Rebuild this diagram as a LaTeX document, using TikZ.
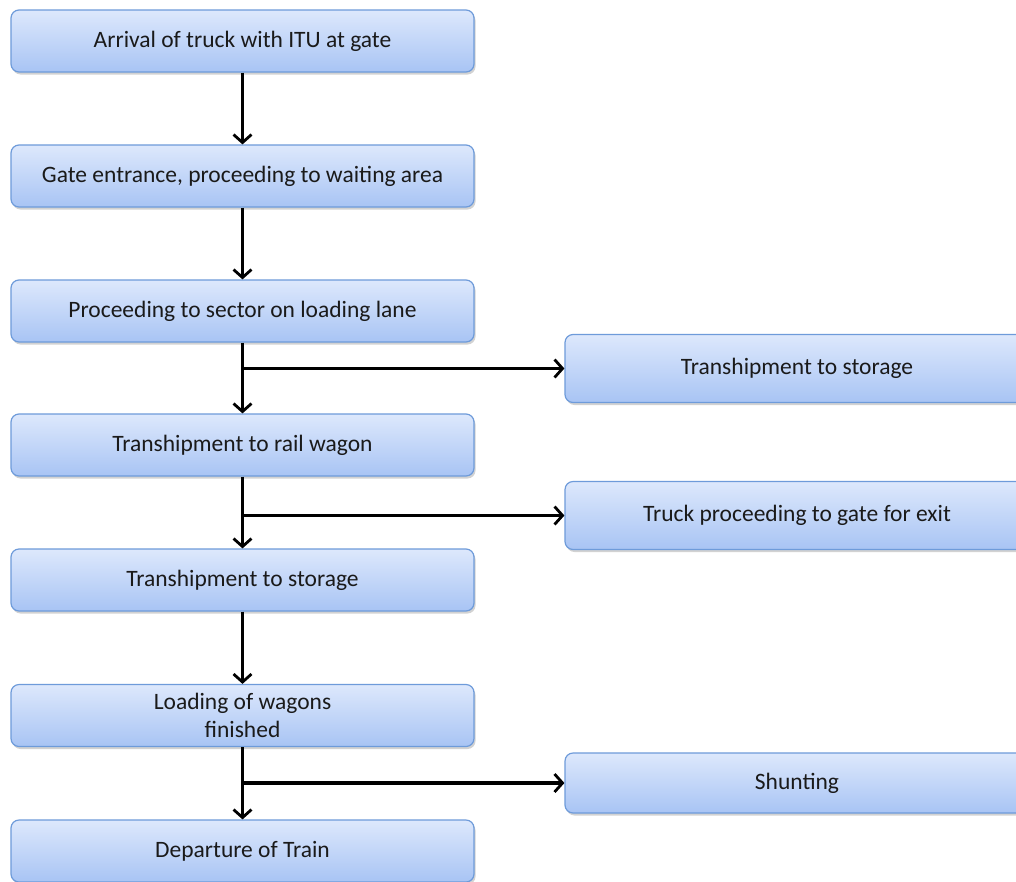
\documentclass[tikz,border=0pt]{standalone}
\usepackage{fontspec}
\setmainfont{Carlito}
\usetikzlibrary{arrows.meta,shadows}
\definecolor{boxtop}{HTML}{DDE8FC}
\definecolor{boxbot}{HTML}{A8C4F4}
\definecolor{boxline}{HTML}{6E9BDA}
\definecolor{txt}{HTML}{1A1A1A}
\tikzset{
  box/.style={rectangle, rounded corners=8pt, draw=boxline, line width=1.2pt,
    top color=boxtop, bottom color=boxbot, text=txt, font=\fontsize{23.5}{28.5}\selectfont,
    align=center, inner sep=0pt,
    drop shadow={opacity=0.35, shadow xshift=1.5pt, shadow yshift=-2.5pt}},
  lbox/.style={box, minimum width=463pt, minimum height=62pt},
  rbox/.style={box, minimum width=464pt, minimum height=68pt},
  conn/.style={line width=3.2pt, -{Straight Barb[length=8pt,width=18pt,line width=2.8pt]}}
}
\begin{document}
\begin{tikzpicture}[x=1pt,y=-1pt]
\useasboundingbox[fill=white] (0,0) rectangle (1016,881);
\node[lbox] (b1) at (242.5,41) {Arrival of truck with ITU at gate};
\node[lbox] (b2) at (242.5,176) {Gate entrance, proceeding to waiting area};
\node[lbox] (b3) at (242.5,311) {Proceeding to sector on loading lane};
\node[lbox] (b4) at (242.5,445) {Transhipment to rail wagon};
\node[lbox] (b5) at (242.5,580) {Transhipment to storage};
\node[lbox] (b6) at (242.5,715.5) {Loading of wagons\\finished};
\node[lbox] (b7) at (242.5,851) {Departure of Train};
\node[rbox] (r1) at (797,368.5) {Transhipment to storage};
\node[rbox] (r2) at (797,515.5) {Truck proceeding to gate for exit};
\node[rbox, minimum height=60pt] (r3) at (797,783) {Shunting};
\draw[conn] (b1) -- (b2);
\draw[conn] (b2) -- (b3);
\draw[conn] (b3) -- (b4);
\draw[conn] (b4) -- (b5);
\draw[conn] (b5) -- (b6);
\draw[conn] (b6) -- (b7);
\draw[conn] (b3.south |- r1.west) -- (r1.west);
\draw[conn] (b4.south |- r2.west) -- (r2.west);
\draw[conn] (b6.south |- r3.west) -- (r3.west);
\end{tikzpicture}
\end{document}
